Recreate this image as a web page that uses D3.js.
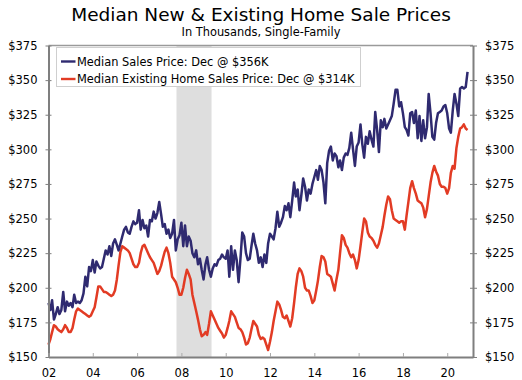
<!DOCTYPE html>
<html>
<head>
<meta charset="utf-8">
<script src="https://cdn.jsdelivr.net/npm/d3@7"></script>
<style>
  html, body { margin: 0; padding: 0; background: #fff; }
  svg { display: block; }
  text { font-family: "DejaVu Sans", Verdana, sans-serif; }
</style>
</head>
<body>
<svg id="chart" width="522" height="380"></svg>
<script>
// ---------------- DATA ----------------
const startYear = 2002;
const endYear = 2020;

// Median new home sales price, single-family ($K), monthly Jan 2002 - Dec 2020
const newHomePrice = [
  189, 184, 191, 177, 181, 186, 181, 184, 197, 183, 190, 187, // 2002
  189, 186, 195, 189, 190, 189, 191, 196, 208, 201, 215, 212, // 2003
  220, 211, 219, 216, 214, 215, 221, 227, 224, 230, 223, 232, // 2004
  235, 231, 227, 232, 237, 242, 244, 240, 239, 244, 248, 246, // 2005
  247, 256, 242, 249, 243, 245, 237, 249, 248, 255, 250, 254, // 2006
  262, 253, 244, 246, 239, 242, 236, 239, 249, 227, 235, 238, // 2007
  247, 230, 245, 230, 237, 234, 225, 222, 227, 217, 221, 213, // 2008
  206, 217, 222, 213, 208, 214, 217, 216, 220, 221, 224, 222, // 2009
  221, 227, 208, 230, 213, 227, 220, 204, 221, 240, 237, 225, // 2010
  220, 221, 230, 239, 232, 227, 218, 222, 215, 224, 218, 232, // 2011
  239, 237, 235, 243, 255, 244, 247, 251, 259, 256, 261, 251, // 2012
  263, 276, 266, 271, 256, 267, 279, 273, 263, 271, 268, 275, // 2013
  280, 285, 278, 288, 285, 276, 261, 290, 299, 302, 292, 297, // 2014
  295, 287, 292, 285, 294, 297, 296, 301, 312, 300, 288, 302, // 2015
  305, 318, 304, 294, 309, 304, 313, 307, 302, 327, 314, 298, // 2016
  321, 316, 322, 315, 318, 321, 324, 333, 343, 343, 331, 334, // 2017
  326, 316, 314, 310, 326, 327, 319, 328, 308, 324, 306, 321, // 2018
  308, 316, 340, 326, 309, 307, 319, 326, 327, 328, 331, 332, // 2019
  326, 315, 312, 328, 340, 333, 324, 344, 345, 344, 345, 356  // 2020
];

// Median existing home sales price, single-family ($K), monthly Jan 2002 - Dec 2020
const existingHomePrice = [
  159, 163, 168, 173, 172, 170, 169, 168, 170, 173, 171, 168, // 2002
  168, 171, 177, 183, 185, 184, 183, 182, 181, 180, 179, 180, // 2003
  183, 186, 193, 201, 201, 199, 197, 197, 196, 195, 194, 195, // 2004
  198, 206, 216, 226, 230, 229, 228, 227, 225, 221, 217, 215, // 2005
  215, 218, 225, 230, 231, 228, 225, 222, 220, 218, 214, 210, // 2006
  212, 216, 221, 226, 229, 225, 218, 208, 206, 204, 200, 195, // 2007
  195, 200, 207, 213, 210, 206, 195, 189, 183, 177, 170, 165, // 2008
  166, 168, 166, 174, 183, 180, 177, 174, 171, 169, 167, 164, // 2009
  166, 171, 176, 183, 181, 179, 175, 171, 170, 168, 164, 159, // 2010
  160, 164, 170, 176, 174, 172, 166, 163, 164, 163, 159, 155, // 2011
  161, 168, 176, 183, 190, 188, 184, 179, 178, 180, 176, 172, // 2012
  178, 189, 200, 210, 214, 212, 208, 200, 198, 198, 194, 189, // 2013
  191, 198, 205, 215, 223, 222, 219, 210, 209, 208, 203, 198, // 2014
  206, 213, 225, 238, 236, 231, 229, 225, 222, 224, 220, 214, // 2015
  220, 230, 240, 250, 248, 240, 237, 236, 234, 231, 229, 232, // 2016
  238, 244, 252, 260, 266, 264, 256, 250, 249, 248, 247, 248, // 2017
  248, 242, 252, 262, 272, 277, 272, 268, 263, 262, 261, 258, // 2018
  251, 257, 266, 276, 283, 288, 284, 281, 275, 273, 273, 272, // 2019
  268, 272, 283, 288, 286, 301, 309, 315, 316, 318, 315, 314  // 2020
];

const seriesNames = [
  "Median Sales Price: Dec @ $356K",
  "Median Existing Home Sales Price: Dec @ $314K"
];
const seriesColors = ["#2f2a70", "#e23b24"];

const yTickValues = [150, 175, 200, 225, 250, 275, 300, 325, 350, 375];
const xTickYears = [2002, 2004, 2006, 2008, 2010, 2012, 2014, 2016, 2018, 2020];
const xTickLabels = ["02", "04", "06", "08", "10", "12", "14", "16", "18", "20"];

// recession period (shaded)
const recession = [new Date(2007, 9, 12), new Date(2009, 4, 12)];

const titleText = "Median New & Existing Home Sale Prices";
const subtitleText = "In Thousands, Single-Family";

// ---------------- LAYOUT ----------------
const plot = { left: 48.5, right: 473, top: 45.5, bottom: 357 };

const dates = [];
for (let yr = startYear; yr <= endYear; yr++) {
  for (let m = 0; m < 12; m++) dates.push(new Date(yr, m, 1));
}

const x = d3.scaleTime()
  .domain([new Date(2002, 0, 1), new Date(2021, 2, 1)])
  .range([plot.left, plot.right]);
const y = d3.scaleLinear()
  .domain([150, 375])
  .range([plot.bottom, plot.top]);

const svg = d3.select("#chart");

// title
svg.append("text")
  .attr("x", 261).attr("y", 21)
  .attr("text-anchor", "middle")
  .attr("font-size", "18.5px")
  .attr("fill", "#000")
  .text(titleText);
svg.append("text")
  .attr("x", 261).attr("y", 35.5)
  .attr("text-anchor", "middle")
  .attr("font-size", "11.4px")
  .attr("fill", "#000")
  .text(subtitleText);

// recession shade
svg.append("rect")
  .attr("x", x(recession[0]))
  .attr("y", plot.top)
  .attr("width", x(recession[1]) - x(recession[0]))
  .attr("height", plot.bottom - plot.top)
  .attr("fill", "#dedede");

// lines
const line = d3.line()
  .x((d, i) => x(dates[i]))
  .y(d => y(d))
  .curve(d3.curveLinear);

const seriesData = [newHomePrice, existingHomePrice];
[1, 0].forEach(k => {
  svg.append("path")
    .datum(seriesData[k])
    .attr("fill", "none")
    .attr("stroke", seriesColors[k])
    .attr("stroke-width", 2.5)
    .attr("stroke-linejoin", "round")
    .attr("d", line);
});

// frame top
const frameColor = "#7f7f7f";
svg.append("line")
  .attr("x1", plot.left).attr("x2", plot.right)
  .attr("y1", plot.top).attr("y2", plot.top)
  .attr("stroke", "#9a9a9a").attr("stroke-width", 1.5);

// axes
const yLeft = d3.axisLeft(y).tickValues(yTickValues)
  .tickFormat(d => "$" + d).tickSizeInner(3).tickSizeOuter(0).tickPadding(8);
const yRight = d3.axisRight(y).tickValues(yTickValues)
  .tickFormat(d => "$" + d).tickSizeInner(3).tickSizeOuter(0).tickPadding(9);
const xAxis = d3.axisBottom(x)
  .tickValues(xTickYears.map(yr => new Date(yr, 0, 1)))
  .tickFormat((d, i) => xTickLabels[i])
  .tickSizeInner(0).tickSizeOuter(0).tickPadding(12);

function styleAxis(g) {
  g.select(".domain").attr("stroke", frameColor).attr("stroke-width", 2);
  g.selectAll(".tick line").attr("stroke", frameColor).attr("stroke-width", 1);
  g.selectAll(".tick text")
    .attr("font-family", "'DejaVu Sans', Verdana, sans-serif")
    .attr("font-size", "11.5px")
    .attr("fill", "#000");
}

const gL = svg.append("g").attr("transform", `translate(${plot.left},0)`).call(yLeft).call(styleAxis);
gL.selectAll(".tick line").attr("x1", 3).attr("x2", -3);
const gR = svg.append("g").attr("transform", `translate(${plot.right},0)`).call(yRight).call(styleAxis);
gR.selectAll(".tick line").attr("x1", -3).attr("x2", 4);
const gX = svg.append("g").attr("transform", `translate(0,${plot.bottom})`).call(xAxis).call(styleAxis);
gX.selectAll(".tick line").attr("y1", 0).attr("y2", -4).attr("stroke", "#aaaaaa");

// legend
const legend = svg.append("g");
legend.append("rect")
  .attr("x", 56.5).attr("y", 47.5)
  .attr("width", 304).attr("height", 39)
  .attr("fill", "#fff")
  .attr("stroke", "#cfcfcf").attr("stroke-width", 1);
seriesNames.forEach((name, i) => {
  const ly = 61.5 + i * 17.5;
  legend.append("line")
    .attr("x1", 61).attr("x2", 75.5)
    .attr("y1", ly).attr("y2", ly)
    .attr("stroke", seriesColors[i]).attr("stroke-width", 2.4);
  legend.append("text")
    .attr("x", 77).attr("y", ly + 4)
    .attr("font-size", "11.4px")
    .attr("fill", "#000")
    .text(name);
});
</script>
</body>
</html>
